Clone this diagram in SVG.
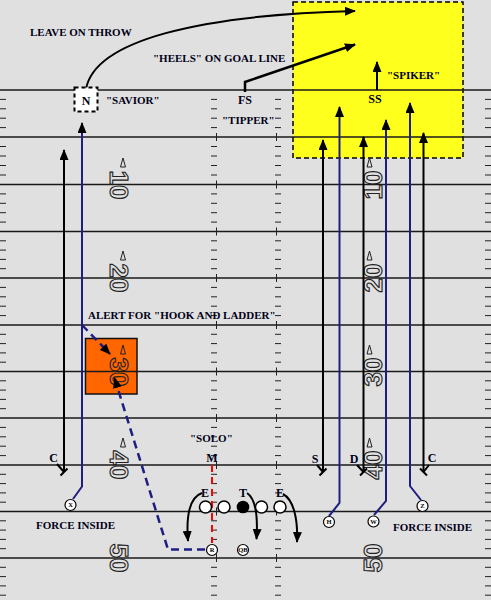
<svg xmlns="http://www.w3.org/2000/svg" width="491" height="600" viewBox="0 0 491 600">
<style>
.t{font-family:"Liberation Serif","Times New Roman",serif;font-weight:bold;font-size:11px;fill:#000018}
.l{font-size:12px}
.p{font-family:"Liberation Serif","Times New Roman",serif;font-weight:bold;font-size:6.5px;fill:#000}
.num{font-family:"Liberation Sans",Arial,sans-serif;font-weight:bold;font-size:26px;fill:none;stroke:#222;stroke-width:1.1}
.tri{fill:none;stroke:#222;stroke-width:1}
.yl{stroke:#1a1a1a;stroke-width:1.3}
.blk{fill:none;stroke:#000;stroke-width:2}
.blu{fill:none;stroke:#1e1e82;stroke-width:2}
.dsh{fill:none;stroke:#1e1e82;stroke-width:2.5;stroke-dasharray:8 5}
.pl{fill:#fff;stroke:#000;stroke-width:1.2}
.ln{fill:#fff;stroke:#000;stroke-width:1.5}
</style>
<defs>
<marker id="ah" markerWidth="11" markerHeight="9" refX="10" refY="4.5" orient="auto" markerUnits="userSpaceOnUse"><path d="M0,0 L11,4.5 L0,9 z" fill="#000"/></marker>
</defs>
<rect width="491" height="600" fill="#e0e0e0"/>
<g id="yellow-zone"><rect x="293" y="2" width="170" height="156" fill="#ffff1e" stroke="#000" stroke-width="1.5" stroke-dasharray="5 3"/></g>
<g id="orange-zone"><rect x="85.5" y="338.5" width="51.5" height="55.5" fill="#ff6600" stroke="#111" stroke-width="1.5"/></g>
<g id="field">
<path class="yl" d="M0 90H491M0 137H491M0 184.5H491M0 231.5H491M0 278H491M0 325H491M0 371.5H491M0 418H491M0 465H491M0 511.5H491M0 558H491"/>
<path stroke="#222" stroke-width="1" d="M0 99.4h6M485 99.4h6M211 99.4h6M275 99.4h6M0 108.8h6M485 108.8h6M211 108.8h6M275 108.8h6M0 118.2h6M485 118.2h6M211 118.2h6M275 118.2h6M0 127.6h6M485 127.6h6M211 127.6h6M275 127.6h6M0 146.5h6M485 146.5h6M211 146.5h6M275 146.5h6M0 156h6M485 156h6M211 156h6M275 156h6M0 165.5h6M485 165.5h6M211 165.5h6M275 165.5h6M0 175h6M485 175h6M211 175h6M275 175h6M0 193.9h6M485 193.9h6M211 193.9h6M275 193.9h6M0 203.3h6M485 203.3h6M211 203.3h6M275 203.3h6M0 212.7h6M485 212.7h6M211 212.7h6M275 212.7h6M0 222.1h6M485 222.1h6M211 222.1h6M275 222.1h6M0 240.8h6M485 240.8h6M211 240.8h6M275 240.8h6M0 250.1h6M485 250.1h6M211 250.1h6M275 250.1h6M0 259.4h6M485 259.4h6M211 259.4h6M275 259.4h6M0 268.7h6M485 268.7h6M211 268.7h6M275 268.7h6M0 287.4h6M485 287.4h6M211 287.4h6M275 287.4h6M0 296.8h6M485 296.8h6M211 296.8h6M275 296.8h6M0 306.2h6M485 306.2h6M211 306.2h6M275 306.2h6M0 315.6h6M485 315.6h6M211 315.6h6M275 315.6h6M0 334.3h6M485 334.3h6M211 334.3h6M275 334.3h6M0 343.6h6M485 343.6h6M211 343.6h6M275 343.6h6M0 352.9h6M485 352.9h6M211 352.9h6M275 352.9h6M0 362.2h6M485 362.2h6M211 362.2h6M275 362.2h6M0 380.8h6M485 380.8h6M211 380.8h6M275 380.8h6M0 390.1h6M485 390.1h6M211 390.1h6M275 390.1h6M0 399.4h6M485 399.4h6M211 399.4h6M275 399.4h6M0 408.7h6M485 408.7h6M211 408.7h6M275 408.7h6M0 427.4h6M485 427.4h6M211 427.4h6M275 427.4h6M0 436.8h6M485 436.8h6M211 436.8h6M275 436.8h6M0 446.2h6M485 446.2h6M211 446.2h6M275 446.2h6M0 455.6h6M485 455.6h6M211 455.6h6M275 455.6h6M0 474.3h6M485 474.3h6M211 474.3h6M275 474.3h6M0 483.6h6M485 483.6h6M211 483.6h6M275 483.6h6M0 492.9h6M485 492.9h6M211 492.9h6M275 492.9h6M0 502.2h6M485 502.2h6M211 502.2h6M275 502.2h6M0 520.8h6M485 520.8h6M211 520.8h6M275 520.8h6M0 530.1h6M485 530.1h6M211 530.1h6M275 530.1h6M0 539.4h6M485 539.4h6M211 539.4h6M275 539.4h6M0 548.7h6M485 548.7h6M211 548.7h6M275 548.7h6M0 567.3h6M485 567.3h6M211 567.3h6M275 567.3h6M0 576.6h6M485 576.6h6M211 576.6h6M275 576.6h6M0 585.9h6M485 585.9h6M211 585.9h6M275 585.9h6M0 595.2h6M485 595.2h6M211 595.2h6M275 595.2h6"/>
<path stroke="#222" stroke-width="1" d="M216.5 133v8M276.5 133v8M216.5 180.5v8M276.5 180.5v8M216.5 227.5v8M276.5 227.5v8M216.5 274v8M276.5 274v8M216.5 321v8M276.5 321v8M216.5 367.5v8M276.5 367.5v8M216.5 414v8M276.5 414v8M216.5 461v8M276.5 461v8M216.5 507.5v8M276.5 507.5v8M216.5 554v8M276.5 554v8"/>
<g id="numbers">
<text class="num" text-anchor="middle" transform="translate(110,185) rotate(90)">10</text>
<text class="num" text-anchor="middle" transform="translate(110,278) rotate(90)">20</text>
<text class="num" text-anchor="middle" transform="translate(110,372) rotate(90)">30</text>
<text class="num" text-anchor="middle" transform="translate(110,465) rotate(90)">40</text>
<text class="num" text-anchor="middle" transform="translate(110,558) rotate(90)">50</text>
<text class="num" text-anchor="middle" transform="translate(382,185) rotate(-90)">10</text>
<text class="num" text-anchor="middle" transform="translate(382,278) rotate(-90)">20</text>
<text class="num" text-anchor="middle" transform="translate(382,372) rotate(-90)">30</text>
<text class="num" text-anchor="middle" transform="translate(382,465) rotate(-90)">40</text>
<text class="num" text-anchor="middle" transform="translate(382,558) rotate(-90)">50</text>
<path class="tri" d="M123 158L120.5 167H125.5ZM123 251L120.5 260H125.5ZM123 345L120.5 354H125.5ZM123 438L120.5 447H125.5ZM369.5 158L367 167H372ZM369.5 251L367 260H372ZM369.5 345L367 354H372ZM369.5 438L367 447H372Z"/>
</g>
</g>
<g id="connectors">
<path class="blk" d="M86 89C95 40 200 15 355 11" marker-end="url(#ah)"/>
<path fill="none" stroke="#000" stroke-width="2.5" d="M245 92V82L355 44.5" marker-end="url(#ah)"/>
<path class="blk" d="M377 90V62" marker-end="url(#ah)"/>
<path class="blk" d="M57 464L64 472M60.5 475.5L67.5 468.5"/>
<path class="blk" d="M64 472V150" marker-end="url(#ah)"/>
<path class="blk" d="M317 465L323 472M319.5 475.5L326.5 468.5"/>
<path class="blk" d="M323 472V140" marker-end="url(#ah)"/>
<path class="blk" d="M357 465L363.5 472M360 475.5L367 468.5"/>
<path class="blk" d="M363.5 472V137" marker-end="url(#ah)"/>
<path class="blk" d="M429 465L423.5 472M420 468.5L427 475.5"/>
<path class="blk" d="M423.5 472V133" marker-end="url(#ah)"/>
<path class="blu" d="M73 499L82 486.5V123" marker-end="url(#ah)"/>
<path class="blu" d="M329 516L339.5 503V107" marker-end="url(#ah)"/>
<path class="blu" d="M374 515L386 501V120" marker-end="url(#ah)"/>
<path class="blu" d="M421 500L410 486V103" marker-end="url(#ah)"/>
<path class="dsh" d="M82 325L110 354" marker-end="url(#ah)"/>
<path class="dsh" d="M205 549.5H168L114.5 378" marker-end="url(#ah)"/>
<path fill="none" stroke="#ff0000" stroke-width="2" stroke-dasharray="7 5" d="M212 465V543"/>
<path class="blk" d="M202 493C190 497 186 515 188 541" marker-end="url(#ah)"/>
<path class="blk" d="M247 493C256 499 258 516 256.5 539" marker-end="url(#ah)"/>
<path class="blk" d="M283 494C294 500 298 520 297 542" marker-end="url(#ah)"/>
</g>
<g id="N"><rect x="74.5" y="87.5" width="23" height="24" fill="#fff" stroke="#000" stroke-width="2" stroke-dasharray="4 3"/><text class="t l" x="86" y="105" text-anchor="middle">N</text></g>
<g id="FS"><text class="t l" x="245" y="104" text-anchor="middle">FS</text></g>
<g id="SS"><text class="t l" x="375" y="103" text-anchor="middle">SS</text></g>
<g id="C-left"><text class="t l" x="53.5" y="462" text-anchor="middle">C</text></g>
<g id="S"><text class="t l" x="315" y="463" text-anchor="middle">S</text></g>
<g id="D"><text class="t l" x="354" y="463" text-anchor="middle">D</text></g>
<g id="C-right"><text class="t l" x="432" y="462" text-anchor="middle">C</text></g>
<g id="M"><text class="t l" x="212" y="462" text-anchor="middle">M</text></g>
<g id="E-left"><text class="t l" x="205" y="497" text-anchor="middle">E</text></g>
<g id="T"><text class="t l" x="243" y="497" text-anchor="middle">T</text></g>
<g id="E-right"><text class="t l" x="280" y="497" text-anchor="middle">E</text></g>
<g id="oline">
<circle class="ln" cx="205.5" cy="507" r="6"/>
<circle class="ln" cx="224" cy="507" r="6"/>
<circle cx="243" cy="507" r="6.3" fill="#000"/>
<circle class="ln" cx="261.5" cy="507" r="6"/>
<circle class="ln" cx="280" cy="507" r="6"/>
</g>
<g id="X"><circle class="pl" cx="70.5" cy="505" r="5.5"/><text class="p" x="70.5" y="507.3" text-anchor="middle">X</text></g>
<g id="H"><circle class="pl" cx="329" cy="522" r="5.5"/><text class="p" x="329" y="524.3" text-anchor="middle">H</text></g>
<g id="W"><circle class="pl" cx="373.5" cy="521.5" r="5.5"/><text class="p" x="373.5" y="523.8" text-anchor="middle">W</text></g>
<g id="Z"><circle class="pl" cx="422.5" cy="506" r="5.5"/><text class="p" x="422.5" y="508.3" text-anchor="middle">Z</text></g>
<g id="R"><circle class="pl" cx="212" cy="550" r="5.5"/><text class="p" x="212" y="552.3" text-anchor="middle">R</text></g>
<g id="QB"><circle class="pl" cx="243" cy="550" r="5.5"/><text class="p" x="243" y="552.3" text-anchor="middle" font-size="5.5">QB</text></g>
<g id="labels">
<text class="t" x="30" y="36">LEAVE ON THROW</text>
<text class="t" x="153" y="62">"HEELS" ON GOAL LINE</text>
<text class="t" x="106" y="104">"SAVIOR"</text>
<text class="t" x="222" y="124">"TIPPER"</text>
<text class="t" x="387" y="79">"SPIKER"</text>
<text class="t" x="88" y="319">ALERT FOR "HOOK AND LADDER"</text>
<text class="t" x="190" y="442">"SOLO"</text>
<text class="t" x="36" y="529">FORCE INSIDE</text>
<text class="t" x="393" y="531">FORCE INSIDE</text>
</g>
</svg>
